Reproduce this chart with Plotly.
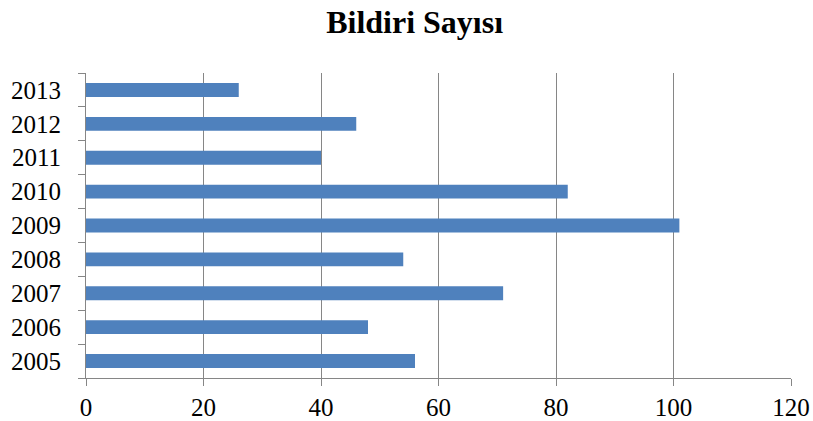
import plotly.graph_objects as go

years = ["2005", "2006", "2007", "2008", "2009", "2010", "2011", "2012", "2013"]
counts = [56, 48, 71, 54, 101, 82, 40, 46, 26]
x_ticks = [0, 20, 40, 60, 80, 100, 120]

fig = go.Figure(go.Bar(
    x=counts, y=years, orientation="h",
    marker=dict(color="#4F81BD", line=dict(width=0)),
))

fig.update_layout(
    width=813, height=421,
    margin=dict(l=86, r=22, t=73, b=43),
    paper_bgcolor="white", plot_bgcolor="white",
    bargap=0.59,
    showlegend=False,
    font=dict(family="Liberation Serif", size=25, color="black"),
    title=dict(text="<b>Bildiri Sayısı</b>", x=0.51, xanchor="center", y=0.948, yanchor="middle",
               font=dict(family="Liberation Serif", size=32, color="black")),
)
fig.update_xaxes(
    range=[0, 120], tickvals=x_ticks, showgrid=True, gridcolor="#868686", gridwidth=1,
    showline=True, linecolor="#868686", linewidth=1, ticks="outside", ticklen=7,
    tickcolor="#868686", zeroline=False, automargin=False,
)
fig.update_yaxes(
    type="category", categoryorder="array", categoryarray=years,
    showline=True, linecolor="#868686", linewidth=1, ticks="outside", ticklen=7,
    tickcolor="#868686", tickson="boundaries", showgrid=False, automargin=False,
    ticklabelstandoff=19,
)

fig.write_html(
    "out.html",
    config={"displayModeBar": False},
    post_script="document.body.style.margin='0';document.body.style.overflow='hidden';",
)
